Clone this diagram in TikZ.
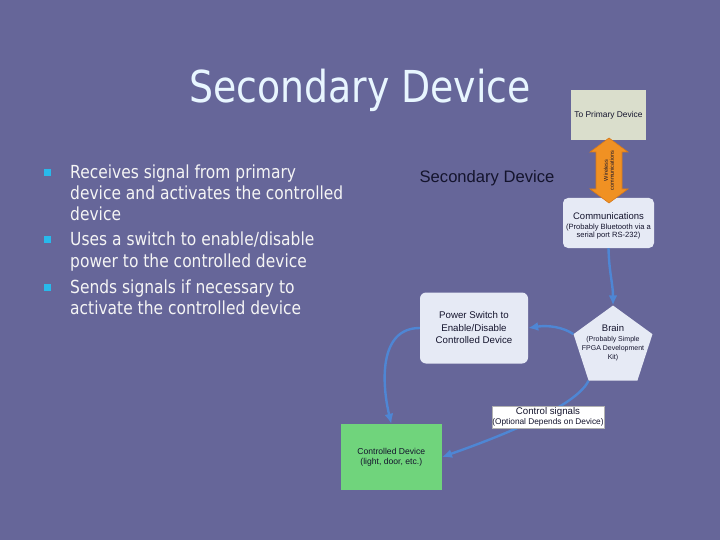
\documentclass[tikz,border=0pt]{standalone}
\usepackage{fontspec}
\setmainfont{Liberation Sans}
\newfontfamily\tahomaish[FakeStretch=0.86]{DejaVu Sans}
\usetikzlibrary{shapes.geometric,arrows.meta}
\definecolor{bg}{RGB}{102,102,153}
\definecolor{titlecol}{RGB}{232,246,255}
\definecolor{bullettext}{RGB}{245,245,245}
\definecolor{bulletsq}{RGB}{40,185,235}
\definecolor{boxfill}{RGB}{230,234,245}
\definecolor{primfill}{RGB}{218,222,204}
\definecolor{ctrlfill}{RGB}{112,212,124}
\definecolor{arrowblue}{RGB}{78,134,212}
\definecolor{orangefill}{RGB}{240,145,35}
\definecolor{orangeline}{RGB}{215,120,25}
\definecolor{darktext}{RGB}{20,20,45}
\tikzset{
  bullettxt/.style={anchor=base west, inner sep=0pt, text=bullettext,
    font=\tahomaish\fontsize{18}{21.5}\selectfont},
  bulletsq/.style={fill=bulletsq, draw=none, minimum size=7pt, inner sep=0pt},
  lightbox/.style={fill=boxfill, draw=none, rounded corners=5pt, inner sep=0pt},
  conn/.style={draw=arrowblue, line width=2.4pt, -{Latex[length=10pt,width=9pt]}},
}
\begin{document}
\begin{tikzpicture}[x=1pt,y=-1pt]
\fill[bg] (0,0) rectangle (720,540);
\useasboundingbox (0,0) rectangle (720,540);

% title
\node[anchor=base, inner sep=0pt, text=titlecol,
  font=\tahomaish\fontsize{44}{50}\selectfont] (title) at (360,103) {Secondary Device};

% bullets
\node[bulletsq] (b1) at (47.5,172.5) {};
\node[bulletsq] (b2) at (47.5,239.5) {};
\node[bulletsq] (b3) at (47.5,287.5) {};
\node[bullettxt] (l1) at (70,178.4) {Receives signal from primary};
\node[bullettxt] (l2) at (70,199.7) {device and activates the controlled};
\node[bullettxt] (l3) at (70,220.9) {device};
\node[bullettxt] (l4) at (70,245.8) {Uses a switch to enable/disable};
\node[bullettxt] (l5) at (70,267.1) {power to the controlled device};
\node[bullettxt] (l6) at (70,293.6) {Sends signals if necessary to};
\node[bullettxt] (l7) at (70,314.9) {activate the controlled device};

% diagram heading
\node[text=darktext, inner sep=0pt, font=\fontsize{16.6}{19}\selectfont]
  (dhead) at (487,178) {Secondary Device};

% To primary device
\node[fill=primfill, draw=none, minimum width=75pt, minimum height=50pt, inner sep=0pt,
  text=darktext, font=\fontsize{8.4}{10}\selectfont] (prim) at (608.5,115) {To Primary Device};

% communications
\node[lightbox, minimum width=91pt, minimum height=50pt] (comm) at (608.5,223) {};
\node[text=darktext, inner sep=0pt, align=center, font=\fontsize{7.6}{8.5}\selectfont]
  (commtxt) at (608.5,226) {{\fontsize{9.5}{11}\selectfont Communications}\\[1pt](Probably Bluetooth via a\\serial port RS-232)};

% wireless double arrow
\coordinate (wc) at (609,170.5);
\fill[orangefill, draw=orangeline, line width=0.6pt]
  ([yshift=32.5pt]wc) -- ([xshift=19pt,yshift=18.5pt]wc) -- ([xshift=13pt,yshift=18.5pt]wc)
  -- ([xshift=13pt,yshift=-18.5pt]wc) -- ([xshift=19pt,yshift=-18.5pt]wc) -- ([yshift=-32.5pt]wc)
  -- ([xshift=-19pt,yshift=-18.5pt]wc) -- ([xshift=-13pt,yshift=-18.5pt]wc)
  -- ([xshift=-13pt,yshift=18.5pt]wc) -- ([xshift=-19pt,yshift=18.5pt]wc) -- cycle;
\node[rotate=90, align=center, inner sep=0pt, text=darktext,
  font=\fontsize{5.5}{6}\selectfont] (wtxt) at (wc) {Wireless\\communications};

% brain
\node[regular polygon, regular polygon sides=5, minimum size=83pt, inner sep=0pt,
  fill=boxfill, draw=none] (brain) at (613,347) {};
\node[text=darktext, inner sep=0pt, align=center, font=\fontsize{7}{9.2}\selectfont,
  yshift=4pt] (braintxt) at (brain.center)
  {{\fontsize{9.5}{11}\selectfont Brain}\\(Probably Simple\\FPGA Development\\Kit)};

% power switch
\node[lightbox, rounded corners=6pt, minimum width=108pt, minimum height=71pt] (ps) at (474,328) {};
\node[text=darktext, inner sep=0pt, align=center, font=\fontsize{9.7}{12.5}\selectfont]
  (pstxt) at (ps.center) {Power Switch to\\Enable/Disable\\Controlled Device};

% controlled device
\node[fill=ctrlfill, draw=none, minimum width=101pt, minimum height=66pt, inner sep=0pt,
  text=darktext, align=center, font=\fontsize{8.6}{9.6}\selectfont] (ctrl) at (391.3,457)
  {Controlled Device\\(light, door, etc.)};

% connectors
\draw[conn] (comm.south) .. controls (609,272) and (613,284) .. (brain.corner 1);
\draw[conn] (brain.corner 2) .. controls (563,327) and (548,325) .. (ps.east);
\draw[conn] (ps.west) .. controls (378,328) and (382,385) .. (ctrl.north);
\draw[conn] (brain.corner 3) .. controls (575,410) and (476,445) .. (ctrl.east);

% control signals label
\node[fill=white, draw=gray!60, line width=0.4pt, minimum width=112pt, minimum height=22pt,
  inner sep=0pt, align=center, text=darktext, font=\fontsize{8.3}{10.5}\selectfont]
  (cslabel) at (548,417) {{\fontsize{9.7}{10.5}\selectfont Control signals}\\(Optional Depends on Device)};
\end{tikzpicture}
\end{document}
